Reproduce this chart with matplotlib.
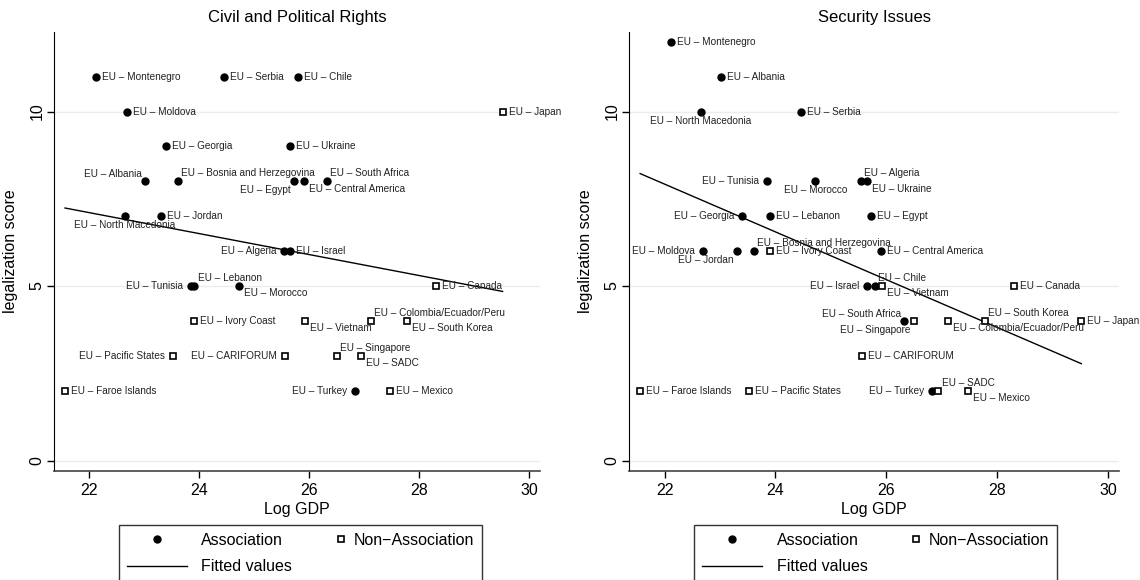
import numpy as np
import matplotlib.pyplot as plt
from matplotlib.legend_handler import HandlerLine2D
from matplotlib.lines import Line2D

plt.rcParams['font.family'] = ['Liberation Sans', 'DejaVu Sans']

# partner countries, log GDP and the two legalization scores
countries = ['Montenegro', 'Moldova', 'Georgia', 'Albania', 'Bosnia and Herzegovina',
             'North Macedonia', 'Jordan', 'Serbia', 'Chile', 'Ukraine', 'Egypt',
             'Central America', 'South Africa', 'Algeria', 'Israel', 'Tunisia',
             'Lebanon', 'Morocco', 'Turkey',
             'Japan', 'Canada', 'Ivory Coast', 'Vietnam', 'Colombia/Ecuador/Peru',
             'South Korea', 'Pacific States', 'CARIFORUM', 'Singapore', 'SADC',
             'Faroe Islands', 'Mexico']
log_gdp = [22.12, 22.69, 23.40, 23.02, 23.61, 22.65, 23.30, 24.46, 25.80, 25.66, 25.72,
           25.90, 26.32, 25.54, 25.65, 23.85, 23.91, 24.72, 26.83,
           29.52, 28.30, 23.91, 25.93, 27.12, 27.78, 23.52, 25.56, 26.50, 26.94,
           21.56, 27.47]
association = [1] * 19 + [0] * 12
civil_score = [11, 10, 9, 8, 8, 7, 7, 11, 11, 9, 8, 8, 8, 6, 6, 5, 5, 5, 2,
               10, 5, 4, 4, 4, 4, 3, 3, 3, 3, 2, 2]
security_score = [12, 6, 7, 11, 6, 10, 6, 10, 5, 8, 7, 6, 4, 8, 5, 8, 7, 8, 2,
                  4, 5, 6, 5, 4, 4, 2, 3, 4, 2, 2, 2]

# marker label clock positions (default 3 = right)
civil_pos = {'Albania': 11, 'Bosnia and Herzegovina': 1, 'North Macedonia': 6,
             'Egypt': 7, 'Central America': 4, 'South Africa': 2, 'Algeria': 9,
             'Tunisia': 9, 'Lebanon': 1, 'Morocco': 4, 'Turkey': 9,
             'Pacific States': 9, 'CARIFORUM': 9, 'Vietnam': 4,
             'Colombia/Ecuador/Peru': 2, 'South Korea': 4, 'Singapore': 2, 'SADC': 4}
security_pos = {'North Macedonia': 6, 'Tunisia': 9, 'Morocco': 6, 'Algeria': 2,
                'Ukraine': 4, 'Georgia': 9, 'Moldova': 9, 'Jordan': 7,
                'Bosnia and Herzegovina': 1, 'Israel': 9, 'Chile': 2, 'Vietnam': 4,
                'South Africa': 11, 'Singapore': 7, 'Colombia/Ecuador/Peru': 4,
                'South Korea': 2, 'Turkey': 9, 'SADC': 2, 'Mexico': 4}

offsets = {3: (4.3, 0, 'left'), 9: (-5.5, 0, 'right'), 1: (2.4, 5.8, 'left'),
           2: (2.4, 5.8, 'left'), 4: (3.6, -5.2, 'left'), 6: (0, -6.5, 'center'),
           7: (-2.4, -6.5, 'right'), 11: (-2.4, 5.2, 'right')}


class MarkerAtEnd(HandlerLine2D):
    # single marker goes to the middle of xdata, so squeeze xdata to the key's right end
    def get_xdata(self, legend, xdescent, ydescent, width, height, fontsize):
        end = -xdescent + width + 0.1 * fontsize
        return [end - 1, end + 1], [end]


def draw_panel(ax, scores, positions, title):
    x = np.array(log_gdp)
    y = np.array(scores)
    assoc = np.array(association) == 1

    ax.plot(x[assoc], y[assoc], 'o', color='black', ms=5, zorder=3)
    ax.plot(x[~assoc], y[~assoc], 's', mfc='white', mec='black', mew=1.2, ms=4.5, zorder=3)

    slope, intercept = np.polyfit(x, y, 1)
    xs = np.array([x.min(), x.max()])
    ax.plot(xs, intercept + slope * xs, color='black', lw=1, zorder=2)

    for name, xi, yi in zip(countries, x, y):
        dx, dy, ha = offsets[positions.get(name, 3)]
        ax.annotate('EU – ' + name, (xi, yi), xytext=(dx, dy), textcoords='offset points',
                    ha=ha, va='center', fontsize=7.2, color='#222222', zorder=4)

    ax.set_xlim(21.36, 30.2)
    ax.set_ylim(-0.3, 12.28)
    ax.set_xticks([22, 24, 26, 28, 30])
    ax.set_yticks([0, 5, 10])
    ax.yaxis.grid(True, color='#e6eef0', lw=1)
    ax.set_axisbelow(True)
    for side in ['top', 'right']:
        ax.spines[side].set_visible(False)
    ax.spines['left'].set_color('black')
    ax.spines['bottom'].set_color('#444444')
    ax.spines['bottom'].set_linewidth(1.2)
    ax.tick_params(direction='out', length=5, width=1, labelsize=11.5)
    ax.tick_params(axis='y', labelrotation=90, pad=2)
    plt.setp(ax.get_yticklabels(), va='center')
    ax.set_xlabel('Log GDP', fontsize=11.5, labelpad=3)
    ax.set_ylabel('legalization score', fontsize=11.5, labelpad=8)
    ax.set_title(title, fontsize=12, pad=7)


fig = plt.figure(figsize=(11.4, 5.8), dpi=100)
ax1 = fig.add_axes([0.0474, 0.1879, 0.4263, 0.757])
ax2 = fig.add_axes([0.5518, 0.1879, 0.4298, 0.757])

draw_panel(ax1, civil_score, civil_pos, 'Civil and Political Rights')
draw_panel(ax2, security_score, security_pos, 'Security Issues')

h_assoc = Line2D([], [], marker='o', color='black', ls='none', ms=5)
h_fit = Line2D([], [], color='black', lw=1)
h_non = Line2D([], [], marker='s', mfc='white', mec='black', mew=1.2, ls='none', ms=4.5)

for cx in [0.2636, 0.7684]:
    leg = fig.legend([h_assoc, h_fit, h_non], ['Association', 'Fitted values', 'Non−Association'],
                     loc='upper center', bbox_to_anchor=(cx, 0.0948), ncol=2,
                     fontsize=11.5, frameon=True, fancybox=False, edgecolor='black',
                     handlelength=3.75, handletextpad=0.9, columnspacing=-0.8,
                     labelspacing=0.7, borderpad=0.5, borderaxespad=0, numpoints=1,
                     handler_map={h_non: MarkerAtEnd(numpoints=1)})
    leg.get_frame().set_linewidth(1)

fig.savefig('out.png', dpi=100)
